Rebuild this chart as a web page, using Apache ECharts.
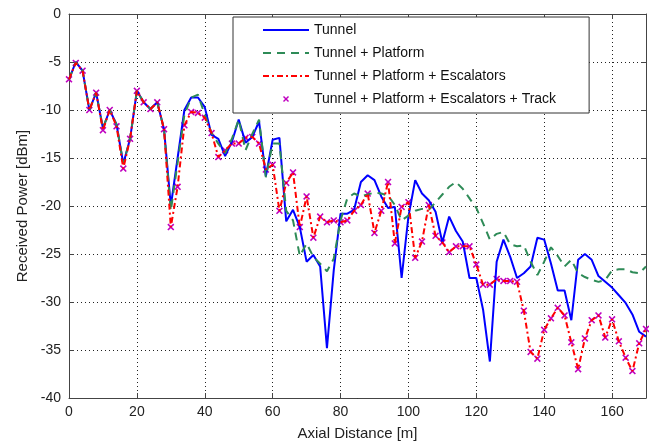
<!DOCTYPE html>
<html>
<head>
<meta charset="utf-8">
<script src="https://cdn.jsdelivr.net/npm/echarts@6/dist/echarts.min.js"></script>
<style>
html,body{margin:0;padding:0;background:#fff;}
#chart{width:649px;height:446px;}
</style>
</head>
<body>
<div id="chart"></div>
<script>
const distance = [0,2,4,6,8,10,12,14,16,18,20,22,24,26,28,30,32,34,36,38,40,42,44,46,48,50,52,54,56,58,60,62,64,66,68,70,72,74,76,78,80,82,84,86,88,90,92,94,96,98,100,102,104,106,108,110,112,114,116,118,120,122,124,126,128,130,132,134,136,138,140,142,144,146,148,150,152,154,156,158,160,162,164,166,168,170];

const tunnel = [-6.8,-5.0,-5.9,-10.0,-8.2,-11.9,-10.0,-11.5,-15.6,-13.0,-8.0,-9.2,-9.9,-9.2,-12.0,-20.0,-15.0,-10.0,-8.7,-8.7,-9.7,-12.6,-13.0,-14.8,-13.3,-11.0,-13.4,-12.8,-11.2,-16.9,-13.1,-12.9,-21.6,-20.4,-22.2,-25.8,-25.1,-26.3,-34.8,-26.7,-20.8,-20.8,-20.4,-17.5,-16.8,-17.3,-19.0,-20.2,-20.1,-27.5,-21.1,-17.3,-18.7,-19.4,-20.6,-23.8,-21.1,-22.6,-23.7,-27.5,-27.5,-30.8,-36.2,-25.8,-23.5,-25.3,-27.5,-27.0,-26.3,-23.3,-23.5,-26.0,-28.8,-28.8,-31.9,-25.6,-25.0,-25.6,-27.3,-27.9,-28.5,-29.3,-30.1,-31.3,-33.1,-33.6];

const platform = [-6.8,-5.0,-5.9,-10.0,-8.2,-11.9,-10.0,-11.5,-15.6,-13.0,-8.0,-9.2,-9.9,-9.2,-12.0,-20.5,-15.5,-10.5,-8.7,-8.4,-10.5,-12.4,-13.5,-14.5,-13.0,-11.0,-14.2,-12.5,-11.0,-17.0,-13.5,-13.5,-20.5,-21.5,-25.2,-23.9,-25.3,-26.0,-26.8,-25.5,-21.5,-19.2,-18.7,-19.0,-18.8,-18.6,-18.7,-18.9,-19.9,-21.5,-21.0,-20.5,-20.3,-20.4,-19.6,-18.8,-18.0,-17.5,-18.2,-19.2,-20.2,-21.8,-23.5,-22.9,-22.7,-24.0,-24.2,-24.1,-25.8,-27.2,-25.8,-24.3,-25.2,-26.3,-25.6,-27.0,-27.4,-27.7,-27.9,-27.7,-26.7,-26.6,-26.6,-26.9,-27.0,-26.3];

const escalators = [-6.8,-5.1,-5.9,-10.0,-8.2,-12.1,-10.0,-11.7,-16.1,-13.0,-8.0,-9.2,-9.9,-9.2,-12.0,-22.2,-18.0,-11.6,-10.2,-10.3,-10.8,-12.4,-14.9,-14.2,-13.5,-13.5,-12.9,-12.8,-13.5,-16.2,-15.7,-20.5,-17.6,-16.5,-22.2,-19.0,-23.3,-21.1,-21.7,-21.5,-21.7,-21.5,-20.5,-19.9,-18.7,-22.8,-20.5,-17.5,-23.9,-20.1,-19.6,-25.4,-23.7,-19.9,-23.1,-23.8,-24.8,-24.2,-24.2,-24.2,-26.1,-28.2,-28.2,-27.6,-27.8,-27.8,-27.9,-30.9,-35.2,-35.9,-32.9,-31.7,-30.6,-31.4,-34.2,-37.0,-33.8,-31.9,-31.4,-33.7,-31.8,-34.1,-35.8,-37.2,-34.3,-32.8];

const track = [-6.8,-5.1,-5.9,-10.0,-8.2,-12.1,-10.0,-11.7,-16.1,-13.0,-8.0,-9.2,-9.9,-9.2,-12.0,-22.2,-18.0,-11.6,-10.2,-10.3,-10.8,-12.4,-14.9,-14.2,-13.5,-13.5,-12.9,-12.8,-13.5,-16.2,-15.7,-20.5,-17.6,-16.5,-22.2,-19.0,-23.3,-21.1,-21.7,-21.5,-21.7,-21.5,-20.5,-19.9,-18.7,-22.8,-20.5,-17.5,-23.9,-20.1,-19.6,-25.4,-23.7,-19.9,-23.1,-23.8,-24.8,-24.2,-24.2,-24.2,-26.1,-28.2,-28.2,-27.6,-27.8,-27.8,-27.9,-30.9,-35.2,-35.9,-32.9,-31.7,-30.6,-31.4,-34.2,-37.0,-33.8,-31.9,-31.4,-33.7,-31.8,-34.1,-35.8,-37.2,-34.3,-32.8];

const seriesNames = ['Tunnel','Tunnel + Platform','Tunnel + Platform + Escalators','Tunnel + Platform + Escalators + Track'];
const xTitle = 'Axial Distance [m]';
const yTitle = 'Received Power [dBm]';

function pairs(ys){ return distance.map((d,i)=>[d, ys[i]]); }

const FONT = '"Liberation Sans", Arial, sans-serif';
const X_PATH = 'path://M0,1.6 L1.6,0 L5,3.4 L8.4,0 L10,1.6 L6.6,5 L10,8.4 L8.4,10 L5,6.6 L1.6,10 L0,8.4 L3.4,5 Z';
const X_LEGEND = 'path://M0,0Z M14,14Z M4,5 L5,4 L7,6 L9,4 L10,5 L8,7 L10,9 L9,10 L7,8 L5,10 L4,9 L6,7 Z';

const chart = echarts.init(document.getElementById('chart'), null, {renderer:'canvas'});

const axisCommon = {
  axisLine:{show:true, onZero:false, lineStyle:{color:'#444', width:1}},
  axisTick:{show:true, inside:true, length:5, lineStyle:{color:'#444'}},
};

const noSym = {opacity:0};

chart.setOption({
  animation:false,
  backgroundColor:'#fff',
  grid:{left:69, right:3, top:14, bottom:48, containLabel:false},
  legend:{
    orient:'vertical',
    left:233, top:17,
    padding:[6,33,7,29],
    itemWidth:46, itemHeight:14, itemGap:9,
    backgroundColor:'#fff',
    borderColor:'#333', borderWidth:1,
    textStyle:{fontFamily:FONT, fontSize:14, color:'#111'},
    data:[
      {name:seriesNames[0], itemStyle:noSym},
      {name:seriesNames[1], itemStyle:noSym},
      {name:seriesNames[2], itemStyle:noSym},
      {name:seriesNames[3], icon:X_LEGEND}
    ]
  },
  xAxis:[
    Object.assign({}, axisCommon, {
      type:'value', min:0, max:170, interval:20, position:'bottom',
      name:xTitle, nameLocation:'middle', nameGap:28,
      nameTextStyle:{fontFamily:FONT, fontSize:15, color:'#222'},
      axisLabel:{fontFamily:FONT, fontSize:14, color:'#222', margin:7, showMaxLabel:false},
      splitLine:{show:true, lineStyle:{color:'#222', type:[1,3], width:1}}
    }),
    Object.assign({}, axisCommon, {
      type:'value', min:0, max:170, interval:20, position:'top',
      axisLabel:{show:false}, splitLine:{show:false}
    })
  ],
  yAxis:[
    Object.assign({}, axisCommon, {
      type:'value', min:-40, max:0, interval:5, position:'left',
      name:yTitle, nameLocation:'middle', nameGap:39,
      nameTextStyle:{fontFamily:FONT, fontSize:15, color:'#222'},
      axisLabel:{fontFamily:FONT, fontSize:14, color:'#222', margin:8},
      splitLine:{show:true, lineStyle:{color:'#222', type:[1,3], width:1}}
    }),
    Object.assign({}, axisCommon, {
      type:'value', min:-40, max:0, interval:5, position:'right',
      axisLabel:{show:false}, splitLine:{show:false}
    })
  ],
  series:[
    {name:seriesNames[0], type:'line', data:pairs(tunnel), symbol:'none',
     lineStyle:{color:'#0000ff', width:2}, itemStyle:{color:'#0000ff'}},
    {name:seriesNames[1], type:'line', data:pairs(platform), symbol:'none',
     lineStyle:{color:'#2e8b57', width:2, type:[8,6]}, itemStyle:{color:'#2e8b57'}},
    {name:seriesNames[2], type:'line', data:pairs(escalators), symbol:'none',
     lineStyle:{color:'#ff0000', width:2, type:[6,3,2,3]}, itemStyle:{color:'#ff0000'}},
    {name:seriesNames[3], type:'scatter', data:pairs(track), symbol:X_PATH, symbolSize:7,
     itemStyle:{color:'#c000c0', opacity:1}}
  ]
});
</script>
</body>
</html>
